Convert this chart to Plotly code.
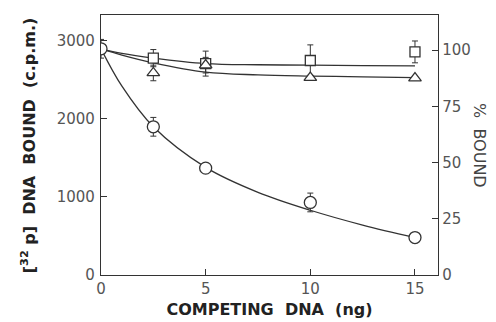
import plotly.graph_objects as go

# Data (ng competing DNA vs c.p.m. bound)
x_pts = [0, 2.5, 5, 10, 15]
circle_y = [2900, 1900, 1370, 930, 480]
circle_err = [120, 120, 40, 120, 30]
square_x = [2.5, 5, 10, 15]
square_y = [2780, 2710, 2750, 2860]
square_err = [110, 160, 200, 140]
triangle_x = [2.5, 5, 10, 15]
triangle_y = [2590, 2690, 2530, 2525]
triangle_err = [100, 100, 30, 20]

# Fitted curves
curve_x = [0, 1, 2.5, 5, 7.5, 10, 12.5, 15]
curve_circle = [2900, 2420, 1900, 1380, 1060, 830, 640, 480]
curve_square = [2900, 2840, 2780, 2710, 2695, 2690, 2685, 2680]
curve_triangle = [2900, 2820, 2720, 2600, 2565, 2550, 2540, 2530]

x_ticks = [0, 5, 10, 15]
left_ticks = [0, 1000, 2000, 3000]
right_ticks = [0, 25, 50, 75, 100]

ink = "#333333"
fig = go.Figure()

for cy in (curve_circle, curve_square, curve_triangle):
    fig.add_trace(go.Scatter(x=curve_x, y=cy, mode="lines", line=dict(color=ink, width=1.3, shape="spline"),
                             showlegend=False, hoverinfo="skip"))

def pts(x, y, err, sym, size):
    fig.add_trace(go.Scatter(
        x=x, y=y, mode="markers",
        marker=dict(symbol=sym, size=size, color="white", line=dict(color=ink, width=1.3)),
        error_y=dict(type="data", array=err, visible=True, color=ink, thickness=1, width=3),
        showlegend=False))

pts(square_x, square_y, square_err, "square", 10)
pts(triangle_x, triangle_y, triangle_err, "triangle-up", 11)
pts(x_pts, circle_y, circle_err, "circle", 12)

# dummy trace for right axis
fig.add_trace(go.Scatter(x=[None], y=[None], yaxis="y2", showlegend=False))

tickfont = dict(family="DejaVu Sans", size=15, color="#555555")
fig.update_layout(
    width=496, height=322,
    margin=dict(l=93, r=66, t=7, b=55),
    paper_bgcolor="white", plot_bgcolor="white",
    font=dict(family="DejaVu Sans", color=ink),
    xaxis=dict(range=[0, 16.1], tickvals=x_ticks, ticks="inside", ticklen=6, tickcolor=ink,
               showline=True, linecolor=ink, linewidth=1.3, mirror=True, showgrid=False, zeroline=False,
               tickfont=tickfont,
               title=dict(text="COMPETING  DNA  (ng)", font=dict(family="DejaVu Sans", size=16, color="#222222", weight="bold"),
                          standoff=6)),
    yaxis=dict(range=[0, 3333], tickvals=left_ticks, ticks="inside", ticklen=6, tickcolor=ink,
               showline=True, linecolor=ink, linewidth=1.3, showgrid=False, zeroline=False,
               tickfont=tickfont, ticklabelstandoff=2),
    yaxis2=dict(range=[0, 115.6], tickvals=right_ticks, overlaying="y", side="right", ticks="inside", ticklen=6,
                tickcolor=ink, showline=True, linecolor=ink, linewidth=1.3, showgrid=False, zeroline=False,
                tickfont=tickfont),
)

fig.add_annotation(text="[<sup>32</sup> p]  DNA  BOUND  (c.p.m.)", xref="paper", yref="paper",
                   x=-0.216, y=0.50, xanchor="center", yanchor="middle", textangle=-90, showarrow=False,
                   font=dict(family="DejaVu Sans", size=16, color="#222222", weight="bold"))
fig.add_annotation(text="%  BOUND", xref="paper", yref="paper",
                   x=1.121, y=0.497, xanchor="center", yanchor="middle", textangle=90, showarrow=False,
                   font=dict(family="DejaVu Sans", size=16, color="#444444"))

fig.write_html("out.html")
